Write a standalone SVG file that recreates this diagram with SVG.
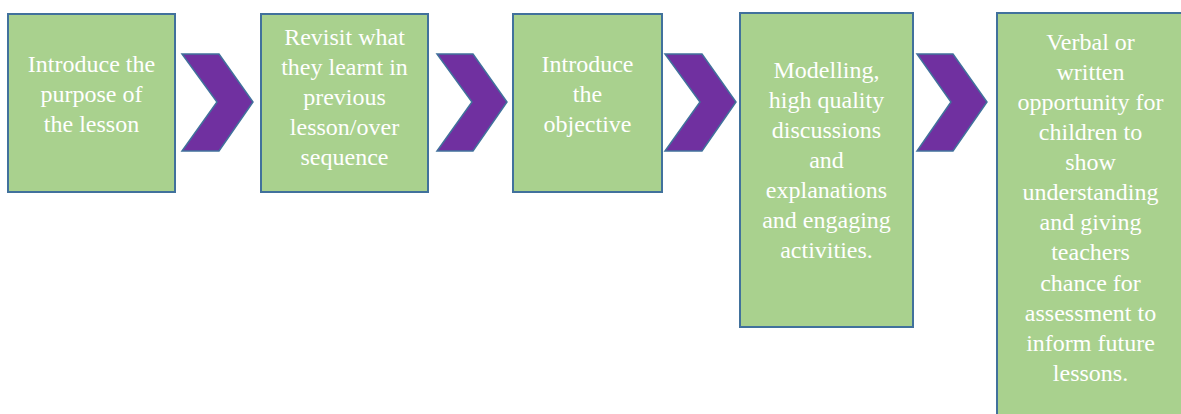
<svg xmlns="http://www.w3.org/2000/svg" width="1181" height="414" viewBox="0 0 1181 414">
<style>
.box{fill:#A9D18E;stroke:#41719C;stroke-width:2}
.chev{fill:#7030A0;stroke:#41719C;stroke-width:1.5;stroke-linejoin:miter}
.t{font-family:"Liberation Serif","Times New Roman",serif;font-size:24px;fill:#FFFFFF;text-anchor:middle}
</style>
<rect width="1181" height="414" fill="#FFFFFF"/>
<g id="connectors">
<polygon class="chev" points="182,54 219,54 253,102 219,151 182,151 217,102"/>
<polygon class="chev" points="437,54 473,54 507,102 473,151 437,151 472,102"/>
<polygon class="chev" points="665,54 702,54 736,102 702,151 665,151 700,102"/>
<polygon class="chev" points="917,54 953,54 987,102 953,151 917,151 951,102"/>
</g>
<g id="node1">
<rect class="box" x="8" y="14" width="167" height="178"/>
<text class="t"><tspan x="91.5" y="72">Introduce the</tspan><tspan x="91.5" y="102">purpose of</tspan><tspan x="91.5" y="132">the lesson</tspan></text>
</g>
<g id="node2">
<rect class="box" x="261" y="14" width="167" height="178"/>
<text class="t"><tspan x="344.5" y="45">Revisit what</tspan><tspan x="344.5" y="75">they learnt in</tspan><tspan x="344.5" y="105">previous</tspan><tspan x="344.5" y="135">lesson/over</tspan><tspan x="344.5" y="165">sequence</tspan></text>
</g>
<g id="node3">
<rect class="box" x="513" y="14" width="149" height="178"/>
<text class="t"><tspan x="587.5" y="72">Introduce</tspan><tspan x="587.5" y="102">the</tspan><tspan x="587.5" y="132">objective</tspan></text>
</g>
<g id="node4">
<rect class="box" x="740" y="13" width="173" height="314"/>
<text class="t"><tspan x="826.5" y="78">Modelling,</tspan><tspan x="826.5" y="108">high quality</tspan><tspan x="826.5" y="138">discussions</tspan><tspan x="826.5" y="168">and</tspan><tspan x="826.5" y="198">explanations</tspan><tspan x="826.5" y="228">and engaging</tspan><tspan x="826.5" y="258">activities.</tspan></text>
</g>
<g id="node5">
<rect class="box" x="997" y="13" width="187" height="420"/>
<text class="t"><tspan x="1090.5" y="50">Verbal or</tspan><tspan x="1090.5" y="80">written</tspan><tspan x="1090.5" y="110">opportunity for</tspan><tspan x="1090.5" y="140">children to</tspan><tspan x="1090.5" y="170">show</tspan><tspan x="1090.5" y="200">understanding</tspan><tspan x="1090.5" y="230">and giving</tspan><tspan x="1090.5" y="260">teachers</tspan><tspan x="1090.5" y="291">chance for</tspan><tspan x="1090.5" y="321">assessment to</tspan><tspan x="1090.5" y="351">inform future</tspan><tspan x="1090.5" y="381">lessons.</tspan></text>
</g>
</svg>
